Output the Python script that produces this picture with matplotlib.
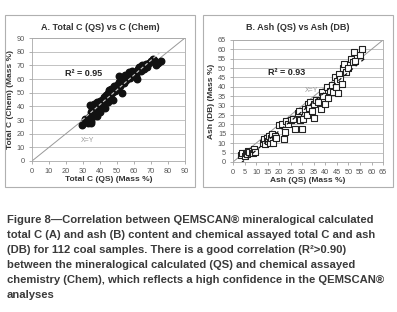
import matplotlib.pyplot as plt
import matplotlib.patches as patches
import numpy as np

plt.rcParams['font.family'] = ['Liberation Sans', 'DejaVu Sans']

# Panel A: Total C (QS) vs Total C (Chem)
qs_c = [29.5, 31, 32, 33, 33.5, 34, 34.5, 35, 35, 35.5, 36, 36.5, 37, 37.5, 38, 38,
        38.5, 39, 39.5, 40, 40, 41, 41.5, 42, 42.5, 43, 43, 43.5, 44, 44.5, 45, 45,
        45.5, 46, 46.5, 47, 47.5, 48, 48.5, 49, 49.5, 50, 50.5, 51, 51.5, 52, 52.5,
        53, 53.5, 54, 55, 55.5, 56, 57, 57.5, 58, 59, 60, 61, 62, 62.5, 63, 64, 64.5,
        65, 66, 67, 68, 69, 70, 71, 72, 73, 74, 76]
chem_c = [26.5, 31, 30, 28, 32, 41, 29, 36, 28, 38, 33, 42, 35, 40, 37, 43,
          33, 42, 38, 44, 36, 40, 45, 42, 47, 44, 39, 48, 46, 43, 50, 45,
          52, 48, 53, 50, 45, 52, 55, 51, 54, 56, 53, 62, 58, 55, 61,
          50, 60, 57, 63, 59, 62, 65, 61, 64, 66, 63, 62, 60, 67, 69, 66, 70,
          68, 67, 71, 69, 72, 73, 75, 74, 70, 72, 73]

# Panel B: Ash (QS) vs Ash (DB)
qs_ash = [3.5, 4, 5, 5.5, 6, 6.5, 7, 8, 8.5, 9, 9.5, 13, 13.5, 14, 14.5, 15, 15.5,
          16, 16.5, 17, 17.5, 18, 18.5, 20, 21, 22, 22.5, 23, 24, 25, 26, 27, 28,
          28.5, 29, 30, 30.5, 31, 32, 32.5, 33, 33.5, 34, 35, 35, 36, 37, 38, 38.5,
          39, 40, 40.5, 41, 42, 43, 43.5, 44, 44.5, 45, 45.5, 46, 46.5, 47, 47.5,
          48, 49, 50, 51, 52, 52.5, 53, 55, 56]
db_ash = [3.5, 4.5, 3, 5, 4, 6, 5.5, 6, 4.5, 7, 5.5, 10, 12, 9.5, 13, 11, 14,
          10, 12.5, 15, 10, 14, 13, 19.5, 20, 12, 16, 22, 20, 22.5, 23, 17.5, 26,
          27, 22.5, 17.5, 23, 28, 25, 31, 29, 32, 27, 23.5, 31, 33, 32, 28, 37,
          35, 31, 40, 34, 38, 41, 37, 45, 40, 43, 36.5, 47, 44, 41.5, 50,
          52, 48, 50, 55, 53, 58.5, 54, 57, 60]

fig = plt.figure(figsize=(3.97, 3.12), dpi=100)

# panel frames
for x0 in [0.0126, 0.511]:
    fig.patches.append(patches.Rectangle((x0, 0.401), 0.479, 0.551, transform=fig.transFigure,
                                         fill=False, edgecolor='#b0b0b0', linewidth=0.8))

axA = fig.add_axes([0.0806, 0.484, 0.385, 0.394])
axB = fig.add_axes([0.587, 0.481, 0.378, 0.391])


def style_axes(ax, lim, step):
    ax.set_xlim(0, lim)
    ax.set_ylim(0, lim)
    ticks = np.arange(0, lim + 1, step)
    ax.set_xticks(ticks)
    ax.set_yticks(ticks)
    ax.grid(axis='y', color='#b8b8b8', linewidth=0.6)
    ax.set_axisbelow(True)
    for s in ax.spines.values():
        s.set_color('#a8a8a8')
        s.set_linewidth(0.6)
    ax.tick_params(labelsize=5.3, colors='#909090', labelcolor='#555555',
                   length=2, width=0.5, pad=3)
    # diagonal X=Y
    ax.plot([0, lim], [0, lim], color='#999999', linewidth=0.7, zorder=1)


style_axes(axA, 90, 10)
axA.scatter(qs_c, chem_c, s=22, color='#111111', zorder=3)
fitA = np.polyfit(qs_c, chem_c, 1)
xa = np.array([min(qs_c), max(qs_c)])
axA.plot(xa, np.polyval(fitA, xa), color='#cccccc', linewidth=0.8, linestyle=(0, (3, 2)), zorder=4)
axA.text(19.5, 64, 'R² = 0.95', fontsize=6.5, fontweight='bold', color='#222222', va='center')
axA.text(28.5, 14.8, 'X=Y', fontsize=5, color='#999999', va='center')
axA.set_xlabel('Total C (QS) (Mass %)', fontsize=6, fontweight='bold', color='#333333', labelpad=1)
axA.set_ylabel('Total C (Chem) (Mass %)', fontsize=6, fontweight='bold', color='#333333', labelpad=2)
fig.text(0.252, 0.913, 'A. Total C (QS) vs C (Chem)', fontsize=6.5, fontweight='bold',
         color='#333333', ha='center', va='center')

style_axes(axB, 65, 5)
axB.scatter(qs_ash, db_ash, s=24, marker='s', facecolor='white', edgecolor='#222222',
            linewidth=0.8, zorder=3)
fitB = np.polyfit(qs_ash, db_ash, 1)
xb = np.array([min(qs_ash), 57])
axB.plot(xb, np.polyval(fitB, xb), color='#111111', linewidth=0.9, linestyle=(0, (3, 3)), zorder=4)
axB.text(15.2, 47.5, 'R² = 0.93', fontsize=6.5, fontweight='bold', color='#222222', va='center')
axB.text(31.2, 37.8, 'X=Y', fontsize=5, color='#999999', va='center')
axB.set_xlabel('Ash (QS) (Mass %)', fontsize=6, fontweight='bold', color='#333333', labelpad=1)
axB.set_ylabel('Ash (DB) (Mass %)', fontsize=6, fontweight='bold', color='#333333', labelpad=2)
fig.text(0.751, 0.913, 'B. Ash (QS) vs Ash (DB)', fontsize=6.5, fontweight='bold',
         color='#333333', ha='center', va='center')

caption = [
    'Figure 8\u2014Correlation between QEMSCAN\u00ae mineralogical calculated',
    'total C (A) and ash (B) content and chemical assayed total C and ash',
    '(DB) for 112 coal samples. There is a good correlation (R\u00b2>0.90)',
    'between the mineralogical calculated (QS) and chemical assayed',
    'chemistry (Chem), which reflects a high confidence in the QEMSCAN\u00ae',
    'analyses',
]
for i, line in enumerate(caption):
    fig.text(7 / 397, 1 - (220 + 15 * i) / 312, line, fontsize=8.1, fontweight='bold',
             color='#3a3a3a', ha='left', va='center')

fig.savefig('out.png', dpi=100)
